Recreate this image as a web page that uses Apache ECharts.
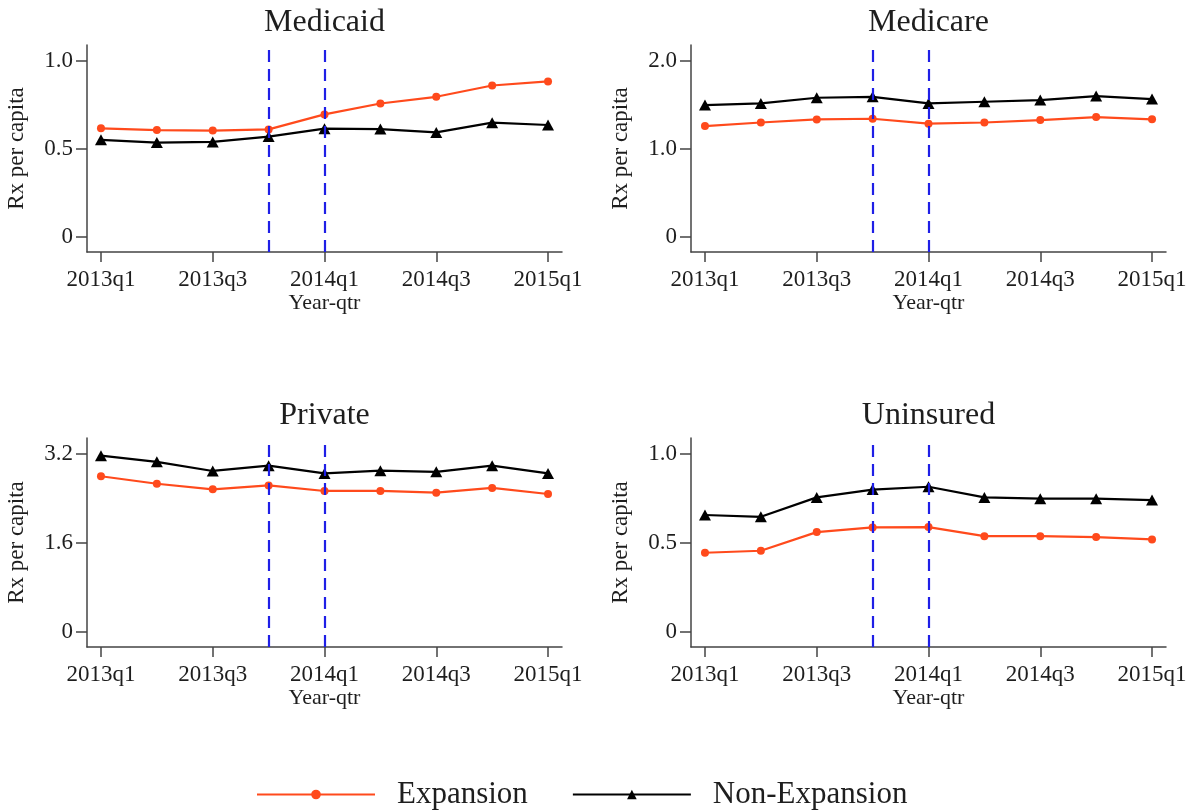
<!DOCTYPE html>
<html>
<head>
<meta charset="utf-8">
<script src="https://cdn.jsdelivr.net/npm/echarts@6/dist/echarts.min.js"></script>
<style>
html,body{margin:0;padding:0;background:#fff;}
#chart{width:1190px;height:812px;}
</style>
</head>
<body>
<div id="chart"></div>
<script>
// ---- data ----
const quarters = ['2013q1','2013q2','2013q3','2013q4','2014q1','2014q2','2014q3','2014q4','2015q1'];
const xTickQuarters = ['2013q1','2013q3','2014q1','2014q3','2015q1'];
const policyQuarters = ['2013q4','2014q1'];

const panelTitles = ['Medicaid','Medicare','Private','Uninsured'];

const medicaidExp    = [0.617,0.607,0.604,0.611,0.696,0.758,0.796,0.860,0.883];
const medicaidNonExp = [0.552,0.536,0.540,0.570,0.615,0.613,0.594,0.649,0.636];
const medicareExp    = [1.26,1.30,1.335,1.343,1.287,1.30,1.328,1.362,1.336];
const medicareNonExp = [1.498,1.517,1.581,1.592,1.517,1.536,1.555,1.600,1.566];
const privateExp     = [2.80,2.665,2.565,2.635,2.535,2.535,2.505,2.590,2.480];
const privateNonExp  = [3.17,3.06,2.895,2.990,2.850,2.900,2.880,2.990,2.850];
const uninsuredExp   = [0.445,0.456,0.561,0.587,0.589,0.538,0.538,0.533,0.520];
const uninsuredNonExp= [0.657,0.647,0.756,0.800,0.816,0.756,0.749,0.749,0.741];

const medicaidTicks  = [0, 0.5, 1.0];
const medicareTicks  = [0, 1.0, 2.0];
const privateTicks   = [0, 1.6, 3.2];
const uninsuredTicks = [0, 0.5, 1.0];

const seriesNames = ['Expansion','Non-Expansion'];

// ---- build ----
const expData    = [medicaidExp, medicareExp, privateExp, uninsuredExp];
const nonExpData = [medicaidNonExp, medicareNonExp, privateNonExp, uninsuredNonExp];
const yTicks     = [medicaidTicks, medicareTicks, privateTicks, uninsuredTicks];

const FONT = "'Liberation Serif','Times New Roman',serif";
const TXT = '#1e1e1e';
const AX = '#444';
const ORANGE = '#ff4a1c';
const BLUE = '#1f1fe6';

const grids = [
  {left:87, top:45, width:475, height:207},
  {left:691, top:45, width:475, height:207},
  {left:87, top:438, width:475, height:209},
  {left:691, top:438, width:475, height:209}
];
const titleTops = [7, 7, 400, 400];

const toPairs = arr => arr.map((v,i)=>[i,v]);
const xTickIdx = xTickQuarters.map(q => quarters.indexOf(q));
const policyIdx = policyQuarters.map(q => quarters.indexOf(q));

const option = {
  backgroundColor:'#fff',
  animation:false,
  title: panelTitles.map((t,i)=>({
    text:t,
    left: grids[i].left + grids[i].width/2,
    top: titleTops[i],
    textAlign:'center',
    padding:0,
    textStyle:{fontFamily:FONT,fontSize:32,fontWeight:'normal',color:TXT}
  })),
  legend:{
    data:seriesNames,
    left:251, top:774,
    itemWidth:118, itemHeight:12, itemGap:44,
    textStyle:{fontFamily:FONT,fontSize:31,color:TXT,padding:[0,0,0,17]}
  },
  grid: grids.map(g=>Object.assign({containLabel:false},g)),
  xAxis: grids.map((g,i)=>({
    gridIndex:i, type:'value', min:-0.25, max:quarters.length-0.75,
    name:'Year-qtr', nameLocation:'middle', nameGap:37,
    nameTextStyle:{fontFamily:FONT,fontSize:22,color:TXT},
    axisLine:{show:true,onZero:false,lineStyle:{color:AX,width:1.5}},
    axisTick:{show:true,length:10,customValues:xTickIdx,lineStyle:{color:AX,width:1.5}},
    axisLabel:{customValues:xTickIdx,margin:16,fontFamily:FONT,fontSize:23,color:TXT,
      formatter:v=>quarters[Math.round(v)]},
    splitLine:{show:false}
  })),
  yAxis: grids.map((g,i)=>{
    const top = yTicks[i][yTicks[i].length-1];
    return {
      gridIndex:i, type:'value', min:-0.085*top, max:1.09*top,
      name:'Rx per capita', nameLocation:'middle', nameGap:59, nameRotate:90,
      nameTextStyle:{fontFamily:FONT,fontSize:23,color:TXT},
      axisLine:{show:true,onZero:false,lineStyle:{color:AX,width:1.5}},
      axisTick:{show:true,length:11,customValues:yTicks[i],lineStyle:{color:AX,width:1.5}},
      axisLabel:{customValues:yTicks[i],margin:14,fontFamily:FONT,fontSize:23,color:TXT,
        formatter:v=> v===0 ? '0' : v.toFixed(1)},
      splitLine:{show:false}
    };
  }),
  series: []
};

for (let i=0;i<4;i++){
  option.series.push({
    name:seriesNames[0], type:'line', xAxisIndex:i, yAxisIndex:i,
    data:toPairs(expData[i]), symbol:'circle', symbolSize:8,
    itemStyle:{color:ORANGE}, lineStyle:{color:ORANGE,width:2.2},
    z:3,
    markLine:{
      silent:true, symbol:['none','none'], label:{show:false},
      lineStyle:{color:BLUE,type:[12,7],width:2.2},
      data: policyIdx.map(x=>({xAxis:x}))
    }
  });
  option.series.push({
    name:seriesNames[1], type:'line', xAxisIndex:i, yAxisIndex:i,
    data:toPairs(nonExpData[i]), symbol:'triangle', symbolSize:[12,11],
    itemStyle:{color:'#000'}, lineStyle:{color:'#000',width:2.2},
    z:3
  });
}

const chart = echarts.init(document.getElementById('chart'), null, {renderer:'canvas'});
chart.setOption(option);
</script>
</body>
</html>
